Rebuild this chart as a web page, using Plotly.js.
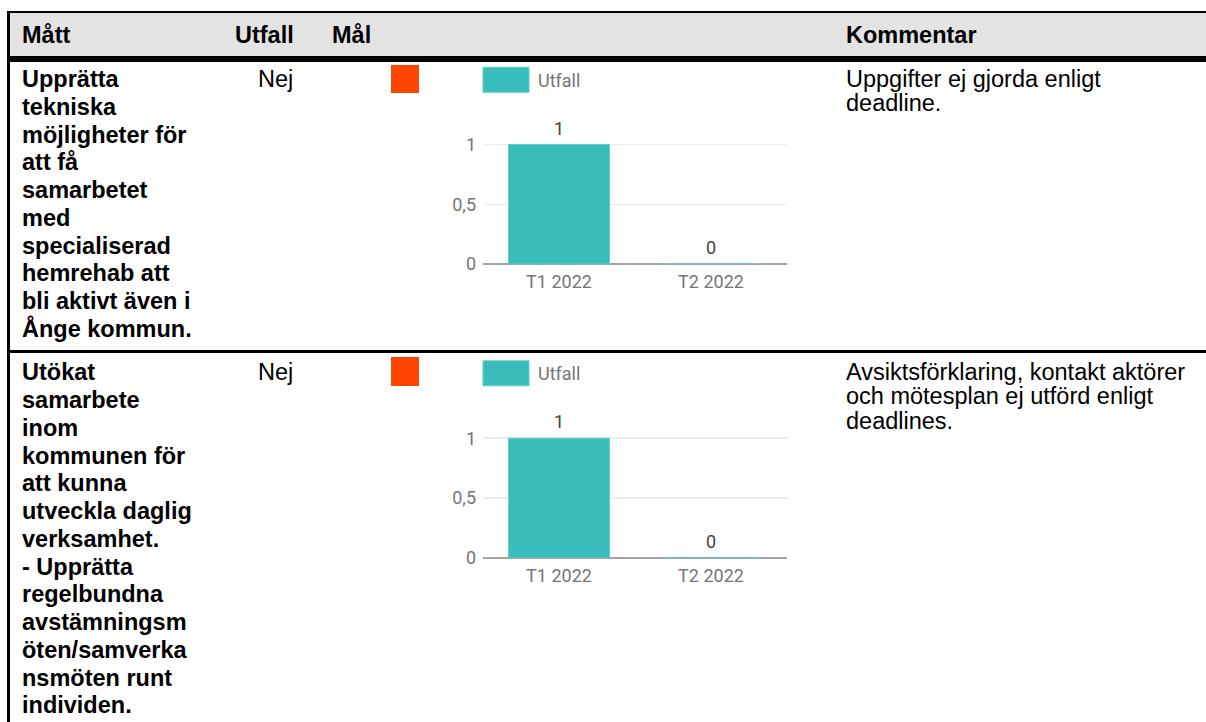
<!DOCTYPE html>
<html>
<head>
<meta charset="utf-8">
<script src="https://cdn.plot.ly/plotly-3.0.1.min.js"></script>
<style>
  html, body { margin: 0; padding: 0; background: #ffffff; }
  body { width: 1206px; height: 722px; position: relative; overflow: hidden; font-family: "Liberation Sans", Arial, sans-serif; color: #000; }
  .abs { position: absolute; }
  .hdr { font-weight: bold; font-size: 23.5px; line-height: 28px; white-space: nowrap; }
  .measure { font-weight: bold; font-size: 23.5px; line-height: 27.75px; white-space: nowrap; }
  .val { font-size: 23.5px; line-height: 27.75px; white-space: nowrap; }
  .comment { font-size: 23.5px; line-height: 24.5px; white-space: nowrap; }
  #chart { position: absolute; left: 0; top: 0; width: 1206px; height: 722px; z-index: 5; }
</style>
</head>
<body>
<div id="table"></div>
<div id="chart"></div>
<script>
// ---- data ----
const headers = ['Mått', 'Utfall', 'Mål', 'Kommentar'];
const measures = [
  ['Upprätta', 'tekniska', 'möjligheter för', 'att få', 'samarbetet', 'med', 'specialiserad', 'hemrehab att', 'bli aktivt även i', 'Ånge kommun.'],
  ['Utökat', 'samarbete', 'inom', 'kommunen för', 'att kunna', 'utveckla daglig', 'verksamhet.', '- Upprätta', 'regelbundna', 'avstämningsm', 'öten/samverka', 'nsmöten runt', 'individen.']
];
const outcomes = ['Nej', 'Nej'];
const goalColors = ['#ff4500', '#ff4500'];
const comments = [
  ['Uppgifter ej gjorda enligt', 'deadline.'],
  ['Avsiktsförklaring, kontakt aktörer', 'och mötesplan ej utförd enligt', 'deadlines.']
];
const categories = ['T1 2022', 'T2 2022'];
const utfallRow1 = [1, 0];
const utfallRow2 = [1, 0];
const seriesName = 'Utfall';

// ---- table (HTML) ----
const tbl = document.getElementById('table');
function box(style, cls, html) {
  const d = document.createElement('div');
  d.className = 'abs ' + (cls || '');
  d.setAttribute('style', style);
  if (html !== undefined) d.innerHTML = html;
  tbl.appendChild(d);
  return d;
}
// header background and rules
box('left:8px;top:11px;width:1198px;height:2px;background:#000;');
box('left:8px;top:13px;width:1198px;height:43px;background:#e3e3e3;');
box('left:8px;top:56px;width:1198px;height:6px;background:#000;');
box('left:7px;top:11px;width:2.5px;height:711px;background:#000;');
box('left:8px;top:350px;width:1198px;height:2.5px;background:#000;');
// header texts
const hdrX = [22, 235, 332, 846];
headers.forEach((h, i) => box('left:' + hdrX[i] + 'px;top:20.6px;', 'hdr', h));
// rows
const rowTop = [66.2, 359.4];
const sqTop = [64.5, 357];
for (let r = 0; r < 2; r++) {
  box('left:22px;top:' + rowTop[r] + 'px;', 'measure', measures[r].join('<br>'));
  box('left:258px;top:' + rowTop[r] + 'px;', 'val', outcomes[r]);
  box('left:390.5px;top:' + sqTop[r] + 'px;width:28.5px;height:28.5px;background:' + goalColors[r] + ';');
  box('left:846px;top:' + (rowTop[r] + 0.3) + 'px;', 'comment', comments[r].join('<br>'));
}

// ---- charts (Plotly) ----
const W = 1206, H = 722;
const px = x => x / W;
const py = y => 1 - y / H;
const teal = '#38bdbb';
const yMax = 1.25;
const unit = 119.5;
const plotLeft = 483, plotRight = 787;
const zeroY = [264, 557.7];
const rowShift = [0, 293.5];
const tickFont = { family: 'Roboto, sans-serif', size: 18, color: '#757575' };

const series = [utfallRow1, utfallRow2];
const traces = series.map((vals, i) => ({
  type: 'bar',
  x: categories,
  y: vals,
  name: seriesName,
  xaxis: i === 0 ? 'x' : 'x2',
  yaxis: i === 0 ? 'y' : 'y2',
  marker: { color: teal, line: { color: '#5fcfcc', width: 1 } },
  showlegend: false,
  hoverinfo: 'skip'
}));

function xAxis(anchor) {
  return {
    domain: [px(plotLeft), px(plotRight)],
    anchor: anchor,
    type: 'category',
    showgrid: false,
    zeroline: false,
    showline: false,
    ticks: '',
    tickfont: tickFont,
    ticklabelstandoff: 5,
    fixedrange: true
  };
}
function yAxis(i, anchor) {
  const bottom = zeroY[i];
  const top = bottom - yMax * unit;
  return {
    domain: [py(bottom), py(top)],
    anchor: anchor,
    range: [0, yMax],
    tick0: 0,
    dtick: 0.5,
    showgrid: true,
    gridcolor: '#e9edf1',
    gridwidth: 1.5,
    zeroline: true,
    zerolinecolor: '#a3a3a3',
    zerolinewidth: 2,
    showline: false,
    ticks: '',
    tickfont: tickFont,
    ticklabelstandoff: 6,
    fixedrange: true
  };
}

const annotations = [];
const shapes = [];
series.forEach((vals, i) => {
  vals.forEach((v, k) => {
    annotations.push({
      xref: i === 0 ? 'x' : 'x2', yref: i === 0 ? 'y' : 'y2',
      x: categories[k], y: v, text: String(v), showarrow: false,
      yanchor: 'middle', yshift: 16.5,
      font: { family: 'Roboto, sans-serif', size: 18, color: '#424242' }
    });
  });
  // legend swatch + label
  const sh = rowShift[i];
  shapes.push({
    type: 'rect', xref: 'paper', yref: 'paper',
    x0: px(483), x1: px(529), y0: py(67.3 + sh), y1: py(92.3 + sh),
    fillcolor: teal, line: { color: '#5fcfcc', width: 1 }
  });
  annotations.push({
    xref: 'paper', yref: 'paper', x: px(536), y: py(80 + sh),
    xanchor: 'left', yanchor: 'middle', text: seriesName, showarrow: false,
    font: { family: 'Roboto, sans-serif', size: 18, color: '#757575' }
  });
});

const layout = {
  width: W, height: H,
  margin: { l: 0, r: 0, t: 0, b: 0, pad: 0 },
  paper_bgcolor: 'rgba(0,0,0,0)',
  plot_bgcolor: 'rgba(0,0,0,0)',
  separators: ', ',
  bargap: 0.336,
  showlegend: false,
  xaxis: xAxis('y'),
  yaxis: yAxis(0, 'x'),
  xaxis2: xAxis('y2'),
  yaxis2: yAxis(1, 'x2'),
  annotations: annotations,
  shapes: shapes,
  font: { family: 'Roboto, sans-serif' }
};

Plotly.newPlot('chart', traces, layout, { staticPlot: true, displayModeBar: false });
</script>
</body>
</html>
